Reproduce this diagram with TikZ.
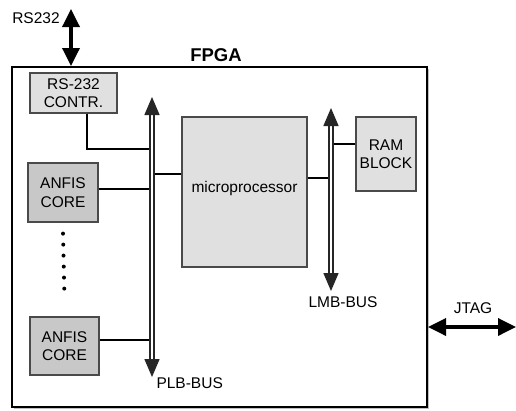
\documentclass[tikz,border=0pt]{standalone}
\usepackage{fontspec}
\setmainfont{Liberation Sans}
\usetikzlibrary{positioning,arrows.meta,calc}
\definecolor{boxgray}{HTML}{E0E0E0}
\definecolor{coregray}{HTML}{C8C8C8}
\definecolor{edgegray}{HTML}{4A4A4A}

\begin{document}
\begin{tikzpicture}[x=1pt,y=-1pt,font=\fontsize{15.5}{18.5}\selectfont,
  blk/.style={draw=edgegray,line width=1.2pt,fill=boxgray,inner sep=0pt,align=center},
  core/.style={blk,fill=coregray},
  link/.style={line width=1.8pt},
  bus/.style={draw=black!85,line width=1.5pt,double=white,double distance=2.6pt,
    {Triangle[length=18pt,width=15pt]}-{Triangle[length=18pt,width=15pt]}},
  io/.style={line width=3.5pt,{Triangle[length=18pt,width=17pt]}-{Triangle[length=18pt,width=17pt]}}]
  \useasboundingbox (0,0) rectangle (516,410);
  % FPGA frame
  \fill[black!25] (14,69) rectangle (429,409);
  \node[draw,line width=2pt,fill=white,minimum width=415pt,minimum height=340pt,inner sep=0pt] (fpga) at (219.5,237) {};
  \node[font=\fontsize{18.5}{20}\selectfont\bfseries] (fpgalbl) at (216,55) {FPGA};
  % blocks
  \node[blk,minimum width=87pt,minimum height=40pt] (rs) at (73.5,93) {RS-232\\CONTR.};
  \node[core,minimum width=70pt,minimum height=59pt] (anfisA) at (63,192.5) {ANFIS\\CORE};
  \node[core,minimum width=69pt,minimum height=58pt] (anfisB) at (64.5,346) {ANFIS\\CORE};
  \node[blk,minimum width=125pt,minimum height=150pt] (cpu) at (244.5,192) {};
  \node[yshift=4pt] (cpulbl) at (cpu.center) {microprocessor};
  \node[blk,minimum width=60pt,minimum height=74pt] (ram) at (386,154) {RAM\\BLOCK};
  % buses
  \coordinate (plbN) at (152,97); \coordinate (plbS) at (152,377);
  \coordinate (lmbN) at (331,108); \coordinate (lmbS) at (331,291);
  \draw[link] (rs.south -| 87,0) |- (plbN |- 0,149);
  \draw[link] (anfisA.east |- 0,189) -- (plbN |- 0,189);
  \draw[link] (anfisB.east |- 0,340) -- (plbN |- 0,340);
  \draw[link] ([yshift=18pt]cpu.west) -- (plbN |- 0,174);
  \draw[link] ([yshift=14pt]cpu.east) -- (lmbN |- 0,178);
  \draw[link] (ram.west |- 0,144) -- (lmbN |- 0,144);
  \draw[bus] (plbS) -- (plbN);
  \draw[bus] (lmbS) -- (lmbN);
  \draw[line width=4pt,line cap=round,dash pattern=on 0pt off 11pt] ([yshift=-11pt]anfisA.south) -- ([yshift=17pt]anfisB.north);
  \node[anchor=west] (plblbl) at (153,383) {PLB-BUS};
  \node (lmblbl) at (343,302) {LMB-BUS};
  % external ports
  \coordinate (rsio) at (71,9);
  \coordinate (jtagio) at (516,327);
  \draw[io] (rsio) -- (rsio |- fpga.north);
  \draw[io] (jtagio -| fpga.east) -- (jtagio);
  \node (rslbl) at (36,18) {RS232};
  \node (jtaglbl) at (473,308) {JTAG};
\end{tikzpicture}
\end{document}
